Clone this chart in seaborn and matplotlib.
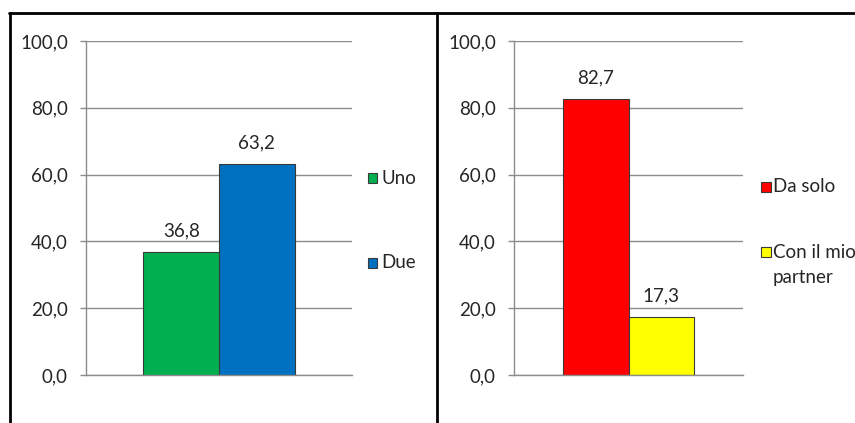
import matplotlib
matplotlib.use("Agg")
import matplotlib.pyplot as plt
from matplotlib.patches import Rectangle
from matplotlib.lines import Line2D
from matplotlib.ticker import FuncFormatter
import seaborn as sns
import pandas as pd

# Data
left_cats = ["Uno", "Due"]
left_vals = [36.8, 63.2]
left_colors = ["#00B050", "#0070C0"]

right_cats = ["Da solo", "Con il mio partner"]
right_vals = [82.7, 17.3]
right_colors = ["#FF0000", "#FFFF00"]
right_legend_lines = ["Con il mio", "partner"]

y_ticks = [0, 20, 40, 60, 80, 100]

sns.set_theme(style="white")
plt.rcParams["font.family"] = ["Lato", "DejaVu Sans"]

W, H = 855, 423
fig = plt.figure(figsize=(W / 100, H / 100), dpi=100)
fig.patch.set_facecolor("white")

TEXT = "#262626"
GRID = "#8c8c8c"
FS = 13.5


def fx(px):
    return px / W


def fy(py):
    return (H - py) / H


def comma(v, _=None):
    return f"{v:.1f}".replace(".", ",")


def panel(x0, x1, cats, vals, colors, half_span):
    ax = fig.add_axes([fx(x0), fy(375), fx(x1) - fx(x0), fy(41) - fy(375)])
    df = pd.DataFrame({"cat": cats, "val": vals})
    sns.barplot(data=df, x="cat", y="val", hue="cat", palette=colors,
                width=1.0, legend=False, ax=ax,
                edgecolor="#3a3a3a", linewidth=0.8, saturation=1)
    ax.set_xlim(0.5 - half_span, 0.5 + half_span)
    ax.set_ylim(0, 100)
    ax.set_yticks(y_ticks)
    ax.yaxis.set_major_formatter(FuncFormatter(comma))
    ax.set_xticks([])
    ax.set_xlabel("")
    ax.set_ylabel("")
    ax.grid(axis="y", color=GRID, linewidth=1)
    ax.set_axisbelow(True)
    for s in ["top", "right"]:
        ax.spines[s].set_visible(False)
    for s in ["left", "bottom"]:
        ax.spines[s].set_color(GRID)
        ax.spines[s].set_linewidth(1)
    ax.tick_params(axis="y", left=True, length=4.5, width=1, color=GRID,
                   labelsize=FS, labelcolor=TEXT, pad=8.5)
    # value labels above each bar
    for i, v in enumerate(vals):
        ax.annotate(comma(v), (i, v), xytext=(0, 9), textcoords="offset points",
                    ha="center", va="bottom", fontsize=FS, color=TEXT)
    return ax


panel(86, 352, left_cats, left_vals, left_colors, 1.76)
panel(514, 743, right_cats, right_vals, right_colors, 1.75)


def legend_square(x_sq, y_c, color):
    s = 9.5
    fig.add_artist(Rectangle((fx(x_sq), fy(y_c + s / 2)), s / W, s / H,
                             facecolor=color, edgecolor="#3a3a3a",
                             linewidth=0.8, transform=fig.transFigure))


def legend_text(x, y, s):
    fig.text(fx(x), fy(y), s, fontsize=FS, color=TEXT, va="center", ha="left")


legend_square(367.5, 178, left_colors[0])
legend_text(381, 178, left_cats[0])
legend_square(367.5, 263, left_colors[1])
legend_text(381, 263, left_cats[1])
legend_square(761, 187, right_colors[0])
legend_text(773, 187, right_cats[0])
legend_square(761, 252, right_colors[1])
legend_text(773, 252, right_legend_lines[0])
legend_text(773, 278, right_legend_lines[1])

# Frame lines around the two panels
for (xa, ya, xb, yb) in [(9, 13.5, W, 13.5), (9.5, 13, 9.5, H), (436.5, 13, 436.5, H)]:
    fig.add_artist(Line2D([fx(xa), fx(xb)], [fy(ya), fy(yb)], color="black",
                          linewidth=2, transform=fig.transFigure))

fig.savefig("out.png", dpi=100, facecolor="white")
